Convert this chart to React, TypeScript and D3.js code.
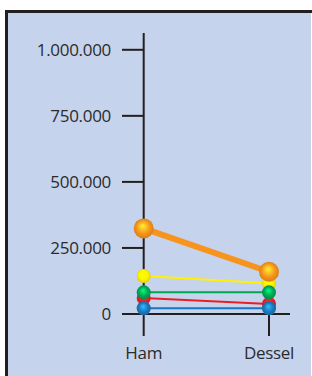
import React, { useEffect, useRef } from "react";
import * as d3 from "d3";

const places = ["Ham", "Dessel"];
const yTicks = [0, 250000, 500000, 750000, 1000000];
const seriesNames = ["orange", "yellow", "green", "red", "blue"];
const seriesColors = ["#f7941d", "#fff200", "#00a651", "#ed1c24", "#1c75bc"];
const seriesValues = [
  [324000, 160000],
  [144000, 116000],
  [82000, 82000],
  [61000, 38000],
  [21500, 21500],
];
const lineWidths = [6, 2, 2, 2, 2];
const dotRadius = [10, 7, 7, 7, 7];

export default function App() {
  const svgRef = useRef<SVGSVGElement>(null);
  const width = 312;
  const height = 376;

  useEffect(() => {
    document.body.style.margin = "0";
    const svg = d3.select(svgRef.current);
    svg.selectAll("*").remove();

    const x = d3.scalePoint().domain(places).range([143.7, 269]);
    const y = d3.scaleLinear().domain([0, 1000000]).range([314, 49.8]);

    const defs = svg.append("defs");
    seriesColors.forEach((c, i) => {
      const g = defs.append("radialGradient")
        .attr("id", "ball" + i)
        .attr("cx", "50%").attr("cy", "50%").attr("r", "55%")
        .attr("fx", "45%").attr("fy", "35%");
      g.append("stop").attr("offset", "0%").attr("stop-color", d3.color(c)!.brighter(1.4).formatHex());
      g.append("stop").attr("offset", "60%").attr("stop-color", c);
      g.append("stop").attr("offset", "100%").attr("stop-color", d3.color(c)!.darker(0.5).formatHex());
    });

    svg.append("rect").attr("width", width).attr("height", height).attr("fill", "#fff");
    svg.append("rect")
      .attr("x", 8).attr("y", 13)
      .attr("width", 303).attr("height", 380)
      .attr("fill", "#c6d3ec");
    svg.append("path")
      .attr("d", "M6.5,376V11.5H312")
      .attr("fill", "none")
      .attr("stroke", "#231f20").attr("stroke-width", 3);

    const font = "'Open Sans', 'Liberation Sans', sans-serif";

    // axes
    const ax = svg.append("g").attr("stroke", "#231f20").attr("stroke-width", 2);
    ax.append("line").attr("x1", x("Ham")!).attr("x2", x("Ham")!).attr("y1", 33).attr("y2", 336);
    ax.append("line").attr("x1", 123).attr("x2", 290).attr("y1", y(0)).attr("y2", y(0));
    ax.selectAll(".yt").data(yTicks).join("line")
      .attr("x1", 122).attr("x2", x("Ham")!)
      .attr("y1", d => y(d)).attr("y2", d => y(d));
    ax.append("line").attr("x1", x("Dessel")!).attr("x2", x("Dessel")!).attr("y1", y(0)).attr("y2", 336);

    const fmt = d3.formatLocale({ decimal: ",", thousands: ".", grouping: [3], currency: ["", ""] }).format(",d");
    svg.append("g").selectAll("text").data(yTicks).join("text")
      .attr("x", 111).attr("y", d => y(d))
      .attr("dy", "0.36em")
      .attr("text-anchor", "end")
      .attr("font-family", font).attr("font-size", 17)
      .attr("letter-spacing", -0.3)
      .attr("fill", "#2b2b2b")
      .text(d => fmt(d));

    svg.append("g").selectAll("text").data(places).join("text")
      .attr("x", d => x(d)!).attr("y", 359)
      .attr("text-anchor", "middle")
      .attr("font-family", font).attr("font-size", 17)
      .attr("letter-spacing", -0.3)
      .attr("fill", "#2b2b2b")
      .text(d => d);

    const line = d3.line<number>().x((_, i) => x(places[i])!).y(d => y(d));
    [4, 3, 2, 1, 0].forEach(i => {
      svg.append("path")
        .attr("d", line(seriesValues[i]))
        .attr("fill", "none")
        .attr("stroke", seriesColors[i])
        .attr("stroke-width", lineWidths[i]);
    });
    [3, 1, 2, 4, 0].forEach(i => {
      svg.append("g").attr("class", seriesNames[i]).selectAll("circle")
        .data(seriesValues[i]).join("circle")
        .attr("cx", (_, j) => x(places[j])!)
        .attr("cy", d => y(d))
        .attr("r", dotRadius[i])
        .attr("fill", `url(#ball${i})`);
    });
  }, []);

  return <svg ref={svgRef} width={width} height={height} style={{ display: "block" }} />;
}
